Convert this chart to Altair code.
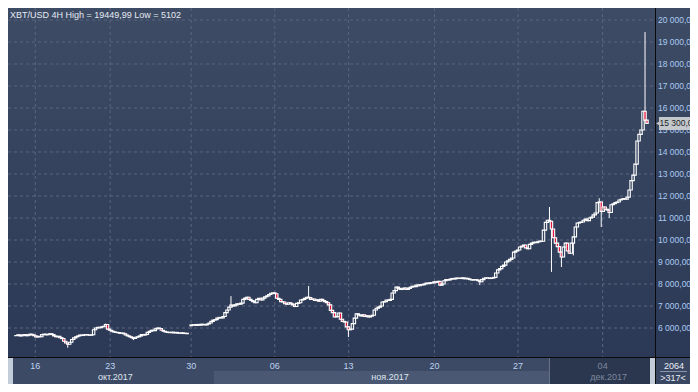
import altair as alt
import pandas as pd

# ---------------- data ----------------
CLOSES = [
    5660, 5690, 5640, 5670, 5700, 5650, 5680, 5720, 5690, 5650,
    5590, 5620, 5600, 5700, 5720, 5690, 5710, 5740, 5700, 5640,
    5600, 5620, 5560, 5520, 5400, 5320, 5260, 5350, 5480, 5550,
    5600, 5640, 5680, 5660, 5690, 5700, 5680, 5670, 5690, 5920,
    6000, 6030, 6010, 6060, 6080, 6160, 5950, 5900, 5850, 5820,
    5800, 5790, 5760, 5770, 5740, 5680, 5640, 5600, 5560, 5520,
    5580, 5600, 5640, 5700, 5680, 5710, 5800, 5850, 5900, 5880,
    5960, 6000, 5980, 5900, 5850, 5820, 5800, 5790, 5810, 5780,
    5800, 5770, 5760, 5780, 5750, 5760, 5740, None, 6140, 6150,
    6120, 6160, 6130, 6170, 6150, 6140, 6180, 6230, 6300, 6360,
    6380, 6450, 6480, 6460, 6520, 6700, 6820, 6950, 7040, 7000,
    7050, 7100, 7080, 7130, 7300, 7360, 7400, 7300, 7250, 7200,
    7150, 7300, 7350, 7280, 7360, 7420, 7460, 7520, 7580, 7600,
    7560, 7350, 7300, 7200, 7180, 7100, 7080, 7150, 7100, 7050,
    6980, 7120, 7150, 7270, 7300, 7350, 7400, 7380, 7300, 7320,
    7250, 7280, 7220, 7300, 7250, 7200, 7150, 7050, 6800, 6700,
    6500, 6520, 6680, 6400, 6300, 6270, 6050, 5920, 5950, 6200,
    6450, 6640, 6590, 6550, 6600, 6520, 6560, 6500, 6540, 6580,
    6820, 6900, 6950, 7000, 7180, 7200, 7270, 7250, 7300, 7590,
    7700, 7860, 7800, 7750, 7780, 7820, 7750, 7800, 7850, 7900,
    7880, 7950, 7920, 7980, 7960, 8000, 8040, 8020, 8060, 8050,
    8100, 8080, 8120, 7950, 8000, 8150, 8200, 8180, 8220, 8250,
    8230, 8270, 8260, 8250, 8280, 8240, 8260, 8230, 8200, 8180,
    8200, 8190, 8150, 8100, 8200, 8260, 8280, 8270, 8250, 8270,
    8300, 8500, 8640, 8700, 8800, 8860, 9000, 9050, 9120, 9180,
    9450, 9500, 9545, 9680, 9720, 9770, 9640, 9600, 9800, 9860,
    9900, 9880, 9920, 9950, 9940, 10450, 10800, 10900, 10850, 10500,
    10100, 9860, 9700, 9450, 9230, 9680, 9860, 9500, 9400, 9860,
    10140, 10590, 10770, 10800, 10820, 10900, 10950, 10880, 11000, 11040,
    11140, 11230, 11700, 11730, 11300, 11500, 11400, 11360, 11250, 11600,
    11650, 11700, 11730, 11820, 11850, 11880, 11860, 11950, 12270, 12700,
    12950, 13450, 14500, 14800, 15000, 15850, 15450, 15300,
]
FIRST_OPEN = 5650
GAP_OPEN = {88: 6100}
SPIKE_HIGH = {45: 6200, 108: 7450, 147: 7910, 268: 11500, 293: 11900, 316: 19449.99}
SPIKE_LOW = {26: 5102, 59: 5450, 140: 6950, 167: 5590, 233: 7950, 269: 8550,
             274: 8770, 280: 9300, 294: 10590, 298: 11000}

Y_TICKS = [6000, 7000, 8000, 9000, 10000, 11000, 12000, 13000, 14000,
           15000, 16000, 17000, 18000, 19000, 20000]
X_TICK_POS = [9.7, 47.3, 88, 130, 167.1, 210.2, 252.2, 294.7]
X_TICK_LABELS = ["16", "23", "30", "06", "13", "20", "27", "04"]
MONTH_POS = [49.9, 187.9, 297.7]
MONTH_LABELS = ["окт.2017", "ноя.2017", "дек.2017"]
NOV_START, DEC_START, END_IDX, START_IDX = 99.4, 268.0, 318.5, -1.5
Y_MIN, Y_MAX = 4682, 20545
LAST_PRICE = 15300
TITLE = "XBT/USD 4H High = 19449,99 Low = 5102"
BARS_TOTAL, BARS_VISIBLE = "2064", ">317<"

# ---------------- tables ----------------
rows = []
prev = FIRST_OPEN
for i, c in enumerate(CLOSES):
    if c is None:
        continue
    o = GAP_OPEN.get(i, prev)
    hi = max(o, c, SPIKE_HIGH.get(i, 0))
    lo = min(o, c, SPIKE_LOW.get(i, 1e9))
    rows.append(dict(i=i, o=o, c=c, h=hi, l=lo, down=bool(c < o)))
    prev = c
df = pd.DataFrame(rows)

ylab = pd.DataFrame({"v": Y_TICKS,
                     "lab": [f"{v:,.2f}".replace(",", " ").replace(".", ",") for v in Y_TICKS]})
xlab = pd.DataFrame({"p": X_TICK_POS, "lab": X_TICK_LABELS})
mlab = pd.DataFrame({"p": MONTH_POS, "lab": MONTH_LABELS})
price = pd.DataFrame({"v": [LAST_PRICE],
                      "lab": [f"{LAST_PRICE:,.1f}".replace(",", " ").replace(".", ",")]})
one = pd.DataFrame({"k": [0]})

W, H = 647, 349
FONT = "Liberation Sans"
xs = alt.Scale(domain=[START_IDX, END_IDX], nice=False, zero=False)
ys = alt.Scale(domain=[Y_MIN, Y_MAX], nice=False, zero=False)

grad_panel = {"gradient": "linear", "x1": 0, "y1": 0, "x2": 0, "y2": 1,
              "stops": [{"offset": 0, "color": "#3e4b64"}, {"offset": 1, "color": "#2c3956"}]}
GRID = "#5a6680"

# ---------------- panels ----------------
plot_bg = alt.Chart(one).mark_rect(fill=grad_panel).encode(
    x=alt.value(0), x2=alt.value(647), y=alt.value(0), y2=alt.value(349))
right_panel = alt.Chart(one).mark_rect(fill=grad_panel).encode(
    x=alt.value(648), x2=alt.value(700), y=alt.value(0), y2=alt.value(349))
bottom_right = alt.Chart(one).mark_rect(color="#3a4762").encode(
    x=alt.value(648), x2=alt.value(700), y=alt.value(350), y2=alt.value(376))
band_all = alt.Chart(pd.DataFrame({"a": [START_IDX], "b": [DEC_START]})).mark_rect(color="#3d4a65").encode(
    x=alt.X("a:Q", scale=xs, axis=None), x2="b:Q", y=alt.value(350), y2=alt.value(376))
band_nov = alt.Chart(pd.DataFrame({"a": [NOV_START], "b": [DEC_START]})).mark_rect(color="#4b5873").encode(
    x=alt.X("a:Q", scale=xs, axis=None), x2="b:Q", y=alt.value(363), y2=alt.value(376))
band_dec = alt.Chart(pd.DataFrame({"a": [DEC_START], "b": [END_IDX]})).mark_rect(color="#2b374f").encode(
    x=alt.X("a:Q", scale=xs, axis=None), x2="b:Q", y=alt.value(350), y2=alt.value(376))
band_sep = alt.Chart(pd.DataFrame({"a": [DEC_START]})).mark_rule(color="#66728a").encode(
    x=alt.X("a:Q", scale=xs, axis=None), y=alt.value(350), y2=alt.value(376))

# ---------------- grid ----------------
hgrid = alt.Chart(pd.DataFrame({"v": Y_TICKS})).mark_rule(
    color=GRID, strokeDash=[3, 3], strokeWidth=1).encode(
    x=alt.value(0), x2=alt.value(647), y=alt.Y("v:Q", scale=ys, axis=None))
vgrid = alt.Chart(pd.DataFrame({"p": X_TICK_POS})).mark_rule(
    color=GRID, strokeDash=[3, 3], strokeWidth=1).encode(
    x=alt.X("p:Q", scale=xs, axis=None), y=alt.value(0), y2=alt.value(349))

# ---------------- candles ----------------
wick = alt.Chart(df).mark_rule(color="white", strokeWidth=1).encode(
    x=alt.X("i:Q", scale=xs, axis=None),
    y=alt.Y("l:Q", scale=ys, axis=None),
    y2="h:Q")
body = alt.Chart(df).mark_bar(size=2.4, stroke="white", strokeWidth=1.1).encode(
    x=alt.X("i:Q", scale=xs, axis=None),
    y=alt.Y("o:Q", scale=ys, axis=None),
    y2="c:Q",
    fill=alt.condition("datum.down", alt.value("#e5173f"), alt.value("#35425d")))

# ---------------- frame lines ----------------
hline = alt.Chart(one).mark_rule(color="#0a0a0a", strokeWidth=1).encode(
    x=alt.value(0), x2=alt.value(700), y=alt.value(349.5))
vline = alt.Chart(one).mark_rule(color="#0a0a0a", strokeWidth=1).encode(
    x=alt.value(647.5), y=alt.value(0), y2=alt.value(376))
small_sep = alt.Chart(one).mark_rule(color="#8a95a8", strokeWidth=1).encode(
    x=alt.value(652), x2=alt.value(679), y=alt.value(363.5))

# ---------------- texts ----------------
ytext = alt.Chart(ylab).mark_text(align="left", baseline="middle", font=FONT, fontSize=8.5,
                                  color="#a9cbf2").encode(
    x=alt.value(650), y=alt.Y("v:Q", scale=ys, axis=None), text="lab:N")
xtext = alt.Chart(xlab).mark_text(align="center", baseline="alphabetic", font=FONT, fontSize=9,
                                  ).encode(
    x=alt.X("p:Q", scale=xs, axis=None), y=alt.value(360.5), text="lab:N",
    color=alt.condition("datum.p > 290", alt.value("#7d889c"), alt.value("#bcd3f0")))
mtext = alt.Chart(mlab).mark_text(align="center", baseline="alphabetic", font=FONT, fontSize=9,
                                  ).encode(
    x=alt.X("p:Q", scale=xs, axis=None), y=alt.value(372), text="lab:N",
    color=alt.condition("datum.p > 290", alt.value("#7d889c"), alt.value("#dfe6ef")))
title = alt.Chart(one).mark_text(align="left", baseline="alphabetic", font=FONT, fontSize=9,
                                 color="#e4eaf2").encode(
    x=alt.value(2), y=alt.value(9.5), text=alt.value(TITLE))
tot = alt.Chart(one).mark_text(align="center", baseline="alphabetic", font=FONT, fontSize=9,
                               color="#e8eef5").encode(
    x=alt.value(666), y=alt.value(360.5), text=alt.value(BARS_TOTAL))
vis = alt.Chart(one).mark_text(align="center", baseline="alphabetic", font=FONT, fontSize=9,
                               color="#e8eef5").encode(
    x=alt.value(665), y=alt.value(372.5), text=alt.value(BARS_VISIBLE))

pbox = alt.Chart(price).mark_rect(color="#c4c8cc", yOffset=-6.5, y2Offset=6.5).encode(
    x=alt.value(651), x2=alt.value(695),
    y=alt.Y("v:Q", scale=ys, axis=None), y2="v:Q")
parrow = alt.Chart(price).mark_point(shape="triangle-left", filled=True, size=45,
                                     color="#c4c8cc", opacity=1).encode(
    x=alt.value(651), y=alt.Y("v:Q", scale=ys, axis=None))
ptext = alt.Chart(price).mark_text(align="left", baseline="middle", font=FONT, fontSize=8.5,
                                   color="#1b1f27").encode(
    x=alt.value(651.5), y=alt.Y("v:Q", scale=ys, axis=None), text="lab:N")

chart = alt.layer(
    plot_bg, right_panel, bottom_right, band_all, band_nov, band_dec, band_sep,
    hgrid, vgrid,
    wick, body,
    hline, vline, small_sep,
    ytext, xtext, mtext, title, tot, vis,
    pbox, parrow, ptext,
).properties(
    width=W, height=H,
    autosize=alt.AutoSizeParams(type="none"),
    padding={"left": 0, "top": 0, "right": 35, "bottom": 27},
    background="#c3cdd9",
).configure_view(
    stroke=None,
)

chart.save("out.html", embed_options={"renderer": "svg", "actions": False})
